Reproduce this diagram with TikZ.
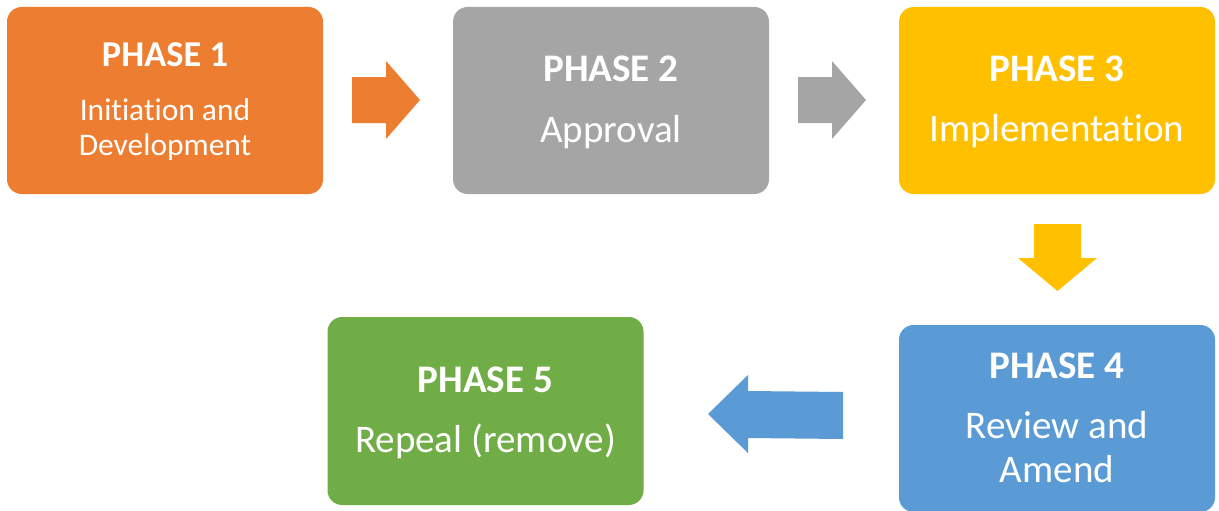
\documentclass[tikz,border=0pt]{standalone}
\usepackage{fontspec}
\setmainfont[Ligatures={NoCommon}, RawFeature={-liga}]{Carlito}
\definecolor{corange}{HTML}{ED7D31}
\definecolor{cgray}{HTML}{A5A5A5}
\definecolor{cyellow}{HTML}{FFC000}
\definecolor{cblue}{HTML}{5B9BD5}
\definecolor{cgreen}{HTML}{70AD47}
\begin{document}
\begin{tikzpicture}[x=0.75pt,y=-0.75pt,
  box/.style={rounded corners=11pt, minimum width=237pt, minimum height=140.25pt, inner sep=0pt, draw=none},
  ttl/.style={text=white, font=\fontsize{29.3}{35}\selectfont\bfseries, anchor=base, inner sep=0pt},
  txt/.style={text=white, font=\fontsize{29.3}{35}\selectfont, anchor=base, inner sep=0pt},
  ttlsmall/.style={ttl, font=\fontsize{27.3}{32}\selectfont\bfseries},
  txtsmall/.style={txt, font=\fontsize{23.6}{28}\selectfont},
  blockarrow/.style={draw=none}]
\clip (0,0) rectangle (1219,510);
\fill[white] (0,0) rectangle (1219,510);
% boxes
\node[box, fill=corange] (p1) at (165,100.5) {};
\node[box, fill=cgray]   (p2) at (611,100.5) {};
\node[box, fill=cyellow] (p3) at (1057,100.5) {};
\node[box, fill=cblue]   (p4) at (1057,418.5) {};
\node[box, fill=cgreen, minimum height=141pt] (p5) at (485.5,411) {};
% texts
\node[ttlsmall] (t1) at (165,67) {PHASE 1};
\node[txtsmall] (s1a) at (165,120) {Initiation and};
\node[txtsmall] (s1b) at (165,155) {Development};
\node[ttl] (t2) at (611,81) {PHASE 2};
\node[txt] (s2) at (611,142) {Approval};
\node[ttl] (t3) at (1057,81) {PHASE 3};
\node[txt] (s3) at (1057,141) {Implementation};
\node[ttl] (t4) at (1057,378) {PHASE 4};
\node[txt] (s4a) at (1057,438) {Review and};
\node[txt] (s4b) at (1057,482) {Amend};
\node[ttl] (t5) at (485.5,392) {PHASE 5};
\node[txt] (s5) at (485.5,452) {Repeal (remove)};
% block arrows
\fill[corange] (352,77) -- (386,77) -- (386,61) -- (420,100) -- (386,139) -- (386,123) -- (352,123) -- cycle;
\fill[cgray] (798,77) -- (832,77) -- (832,61) -- (866,100) -- (832,139) -- (832,123) -- (798,123) -- cycle;
\fill[cyellow] (1034,224) -- (1081,224) -- (1081,258) -- (1097,258) -- (1057.5,291) -- (1018,258) -- (1034,258) -- cycle;
\fill[cblue] (843,392) -- (748,391) -- (748,375) -- (708,414) -- (748,453) -- (748,438) -- (843,439) -- cycle;
\end{tikzpicture}
\end{document}
